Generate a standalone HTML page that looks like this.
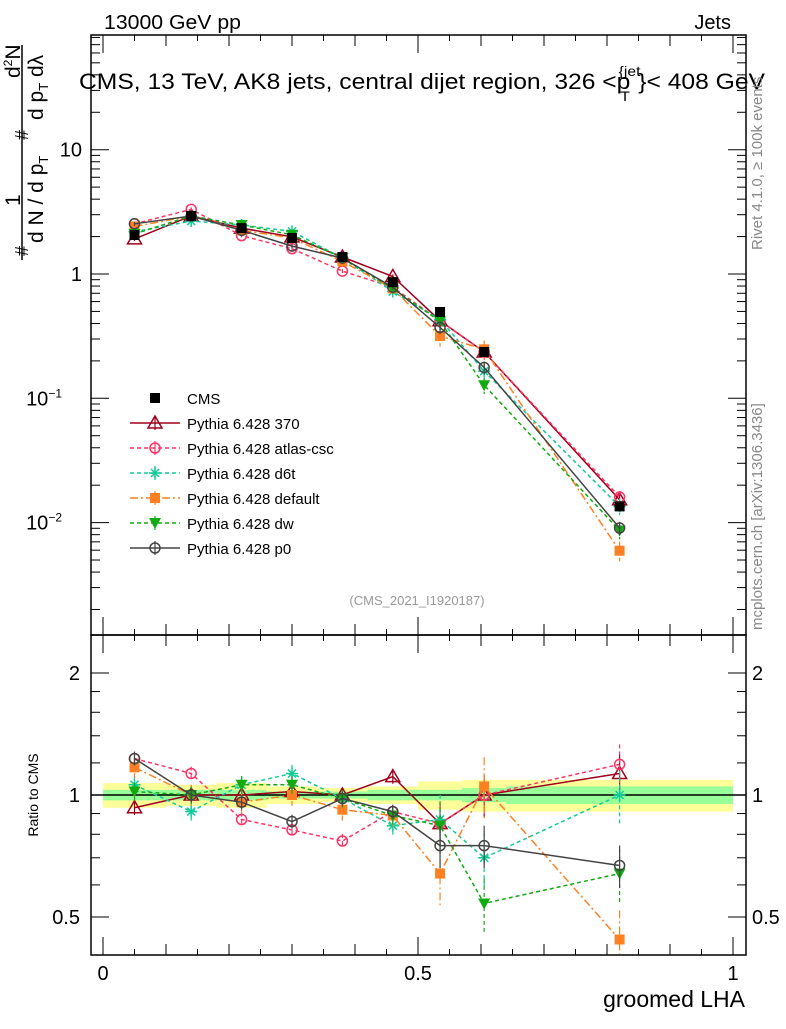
<!DOCTYPE html>
<html><head><meta charset="utf-8"><style>
body{margin:0;background:#fff;width:786px;height:1024px;overflow:hidden}
svg{font-family:"Liberation Sans",sans-serif}
</style></head><body>
<svg id="c" width="786" height="1024" xmlns="http://www.w3.org/2000/svg">
<rect width="786" height="1024" fill="#fff"/>
<text x="104" y="29" font-size="20" textLength="137" lengthAdjust="spacingAndGlyphs">13000 GeV pp</text>
<text x="731" y="29" font-size="20" text-anchor="end">Jets</text>
<text x="79" y="89" font-size="22" textLength="686" lengthAdjust="spacingAndGlyphs">CMS, 13 TeV, AK8 jets, central dijet region, 326 &lt;p<tspan font-size="14" dy="12" dx="-9">T</tspan><tspan font-size="14" dy="-25" dx="-10">{jet</tspan><tspan font-size="22" dy="13" dx="-2">}&lt; 408 GeV</tspan></text>
<g font-size="21">
<line x1="22" y1="260" x2="22" y2="45" stroke="#000" stroke-width="1.5"/>
<text transform="translate(28,256) rotate(-90)" font-size="18">#</text>
<text transform="translate(28,140) rotate(-90)" font-size="18">#</text>
<text transform="translate(20,206) rotate(-90)">1</text>
<text transform="translate(20,78) rotate(-90)">d<tspan font-size="12" dy="-8">2</tspan><tspan dy="8">N</tspan></text>
<text transform="translate(43,243) rotate(-90)">d N / d p<tspan font-size="13" dy="5">T</tspan></text>
<text transform="translate(43,120) rotate(-90)">d p<tspan font-size="13" dy="5">T</tspan><tspan dy="-5"> d</tspan>λ</text>
</g>
<text transform="translate(762,250) rotate(-90)" font-size="15" fill="#888">Rivet 4.1.0, ≥ 100k events</text>
<text transform="translate(762,630) rotate(-90)" font-size="15" fill="#888">mcplots.cern.ch [arXiv:1306.3436]</text>
<text x="417" y="605" font-size="13" fill="#999" text-anchor="middle">(CMS_2021_I1920187)</text>
<text transform="translate(38,795) rotate(-90)" font-size="14" text-anchor="middle">Ratio to CMS</text>
<text x="745" y="1007" font-size="23" text-anchor="end">groomed LHA</text>
<g id="g"></g>
</svg>
<script>
const xc=[0.05,0.14,0.22,0.30,0.38,0.46,0.535,0.605,0.82];
const edges=[0,0.1,0.18,0.26,0.34,0.42,0.5,0.57,0.64,1];
const cms=[2.06,2.93,2.34,1.95,1.37,0.86,0.495,0.236,0.0135];
const bandY=[0.07,0.06,0.07,0.05,0.04,0.05,0.08,0.09,0.09];
const bandG=[0.03,0.03,0.03,0.02,0.02,0.03,0.03,0.04,0.05];
const names=["Pythia 6.428 370","Pythia 6.428 atlas-csc","Pythia 6.428 d6t","Pythia 6.428 default","Pythia 6.428 dw","Pythia 6.428 p0"];
const r370=[0.93,1.0,1.0,1.02,1.0,1.11,0.85,1.0,1.13];
const rAtlas=[1.23,1.13,0.87,0.82,0.77,0.91,0.85,1.0,1.19];
const rD6t=[1.06,0.91,1.06,1.13,0.98,0.84,0.87,0.7,1.0];
const rDef=[1.17,1.0,0.96,1.0,0.92,0.89,0.64,1.05,0.44];
const rDw=[1.02,1.0,1.06,1.06,0.98,0.89,0.84,0.54,0.64];
const rP0=[1.23,1.0,0.96,0.86,0.98,0.91,0.75,0.75,0.67];
const ratios=[r370,rAtlas,rD6t,rDef,rDw,rP0];
const colors=["#a0001c","#ff3366","#11cc99","#ff8022","#11aa11","#444444"];
const dashes=["","4,3","4,3","8,3,2,3","4,3",""];
const markers=["tri","circ","star","sq","tridown","circ"];
const errs=[0.04,0.04,0.05,0.06,0.05,0.04];
const X=v=>103+630*v;
const Y=v=>274-124.3*Math.log10(v);
const R=v=>795-122*Math.log2(v);
const NS="http://www.w3.org/2000/svg";
const g=document.getElementById('g');
function el(t,a,p){const e=document.createElementNS(NS,t);for(const k in a)e.setAttribute(k,a[k]);(p||g).appendChild(e);return e;}
for(let i=0;i<cms.length;i++){
 const x1=X(edges[i]),x2=X(edges[i+1]);
 const b=el('rect',{x:x1,y:R(1+bandY[i]),width:x2-x1,height:R(1-bandY[i])-R(1+bandY[i]),fill:'#ffff99'});
 
 
 const c=el('rect',{x:x1,y:R(1+bandG[i]),width:x2-x1,height:R(1-bandG[i])-R(1+bandG[i]),fill:'#99ff99'});
 
 
}
el('line',{x1:91,x2:746,y1:R(1),y2:R(1),stroke:'#000','stroke-width':1.5});
function marker(type,x,y,col,par){
 let e;const s=6;
 if(type=='sq')e=el('rect',{x:x-5,y:y-5,width:10,height:10,fill:col},par);
 else if(type=='circ')e=el('circle',{cx:x,cy:y,r:5,fill:'#fff','fill-opacity':0,stroke:col,'stroke-width':1.5},par);
 else if(type=='tri')e=el('polygon',{points:`${x},${y-7} ${x-7},${y+5} ${x+7},${y+5}`,fill:'none',stroke:col,'stroke-width':1.5},par);
 else if(type=='tridown')e=el('polygon',{points:`${x},${y+6} ${x-6},${y-5} ${x+6},${y-5}`,fill:col},par);
 else {e=el('path',{d:`M${x-s} ${y}H${x+s}M${x} ${y-s}V${y+s}M${x-4} ${y-4}L${x+4} ${y+4}M${x-4} ${y+4}L${x+4} ${y-4}`,stroke:col,'stroke-width':1.5},par);}
 return e;
}
function series(vals,col,dash,mk,err,Yf,name){
 const gg=el('g',{});
 
 
 el('polyline',{points:vals.map((v,i)=>X(xc[i])+','+Yf(v)).join(' '),fill:'none',stroke:col,'stroke-width':1.5,'stroke-dasharray':dash},gg);
 vals.forEach((v,i)=>{
  const e=err*(i>=6?3:1);
  el('line',{x1:X(xc[i]),x2:X(xc[i]),y1:Yf(v*(1+e)),y2:Yf(Math.max(v*(1-e),1e-4)),stroke:col,'stroke-width':1.2,'stroke-dasharray':dash},gg);
  marker(mk,X(xc[i]),Yf(v),col,gg);
 });
}
ratios.forEach((r,k)=>series(r.map((v,i)=>v*cms[i]),colors[k],dashes[k],markers[k],errs[k],Y,'main-series-'+k));
ratios.forEach((r,k)=>series(r,colors[k],dashes[k],markers[k],errs[k],v=>Math.min(Math.max(R(v),636),954),'ratio-series-'+k));
const cg=el('g',{});


cms.forEach((v,i)=>{marker('sq',X(xc[i]),Y(v),'#000',cg);});
const f1=el('rect',{x:91,y:35,width:655,height:600,fill:'none',stroke:'#000','stroke-width':1.5});


const f2=el('rect',{x:91,y:635,width:655,height:320,fill:'none',stroke:'#000','stroke-width':1.5});


const yTickVals=[10,1,0.1,0.01];
const yTickLabels=["10","1","10<tspan dy='-8' font-size='12'>−1</tspan>","10<tspan dy='-8' font-size='12'>−2</tspan>"];
for(let d=-3;d<=1;d++)for(let m=1;m<10;m++){const v=m*Math.pow(10,d);const y=Y(v);if(y<35||y>635)continue;const L=m==1?18:9;
 el('line',{x1:91,x2:91+L,y1:y,y2:y,stroke:'#000'});el('line',{x1:746,x2:746-L,y1:y,y2:y,stroke:'#000'});}
yTickVals.forEach((v,i)=>{const t=el('text',{x:i<2?82:62,y:Y(v)+7,'font-size':20,'text-anchor':'end'});t.innerHTML=yTickLabels[i];
 
 });
const rTickVals=[2,1,0.5];
const rTickLabels=["2","1","0.5"];
[0.5,0.6,0.7,0.8,0.9,1,1.2,1.4,1.6,1.8,2].forEach(v=>{const y=R(v);const L=[0.5,1,2].includes(v)?18:9;
 el('line',{x1:91,x2:91+L,y1:y,y2:y,stroke:'#000'});el('line',{x1:746,x2:746-L,y1:y,y2:y,stroke:'#000'});});
rTickVals.forEach((v,i)=>{[[80,'end'],[752,'start']].forEach(([x,a])=>{const t=el('text',{x:x,y:R(v)+7,'font-size':20,'text-anchor':a});t.textContent=rTickLabels[i];
 
 });});
const xTickVals=[0,0.5,1];
const xTickLabels=["0","0.5","1"];
for(let k=-1;k<=21;k++){const v=k*0.05;const x=X(v);if(x<91||x>746)continue;const L=k%10==0?18:(k%2==0?11:6);
 el('line',{x1:x,x2:x,y1:955,y2:955-L,stroke:'#000'});el('line',{x1:x,x2:x,y1:635,y2:635-L,stroke:'#000'});
 el('line',{x1:x,x2:x,y1:35,y2:35+L,stroke:'#000'});el('line',{x1:x,x2:x,y1:635,y2:635+L,stroke:'#000'});}
xTickVals.forEach((v,i)=>{const t=el('text',{x:X(v),y:980,'font-size':20,'text-anchor':'middle'});t.textContent=xTickLabels[i];
 
 });
const lg=el('g',{});


marker('sq',155,398,'#000',lg);
const t0=el('text',{x:187,y:404,'font-size':15},lg);t0.textContent='CMS';
names.forEach((n,k)=>{const y=423+25*k;
 el('line',{x1:130,x2:180,y1:y,y2:y,stroke:colors[k],'stroke-width':1.5,'stroke-dasharray':dashes[k]},lg);
 el('line',{x1:155,x2:155,y1:y-7,y2:y+7,stroke:colors[k],'stroke-width':1.2},lg);
 marker(markers[k],155,y,colors[k],lg);
 const t=el('text',{x:187,y:y+6,'font-size':15},lg);t.textContent=n;
 
 });
</script>
</body></html>
